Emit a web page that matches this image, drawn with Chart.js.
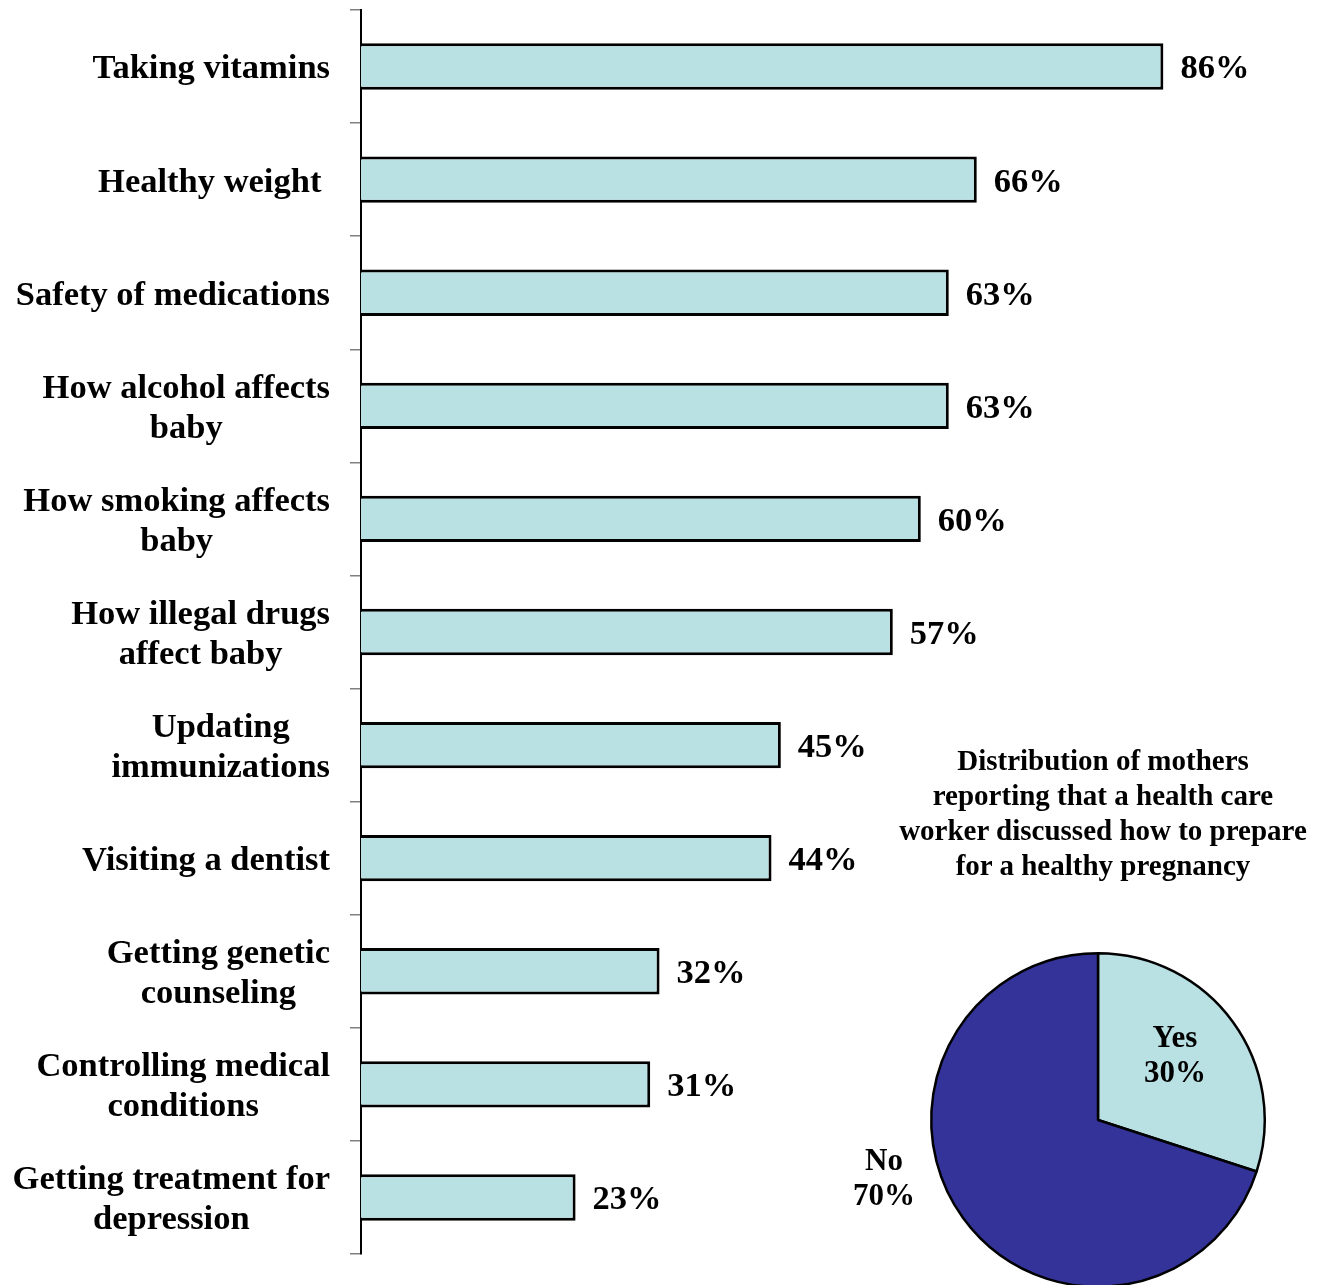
<!DOCTYPE html>
<html>
<head>
<meta charset="utf-8">
<script src="https://cdn.jsdelivr.net/npm/chart.js@4"></script>
<style>
  body { margin: 0; background: #fff; overflow: hidden; }
  #wrap { position: relative; width: 1325px; height: 1285px; }
  #barChart { position: absolute; left: 0; top: 0; }
  #pieChart { position: absolute; left: 926px; top: 948px; }
  #pieTitle {
    position: absolute; left: 880px; top: 743px; width: 446px;
    text-align: center; font: bold 29px "Liberation Serif", "Times New Roman", serif;
    line-height: 35px; color: #000;
  }
</style>
</head>
<body>
<div id="wrap">
  <canvas id="barChart" width="1325" height="1285"></canvas>
  <canvas id="pieChart" width="344" height="344"></canvas>
  <div id="pieTitle">Distribution of mothers<br>reporting that a health care<br>worker discussed how to prepare<br>for a healthy pregnancy</div>
</div>
<script>
const topics = [
  ['Taking vitamins'],
  ['Healthy weight '],
  ['Safety of medications'],
  ['How alcohol affects', 'baby'],
  ['How smoking affects', 'baby'],
  ['How illegal drugs', 'affect baby'],
  ['Updating', 'immunizations'],
  ['Visiting a dentist'],
  ['Getting genetic', 'counseling'],
  ['Controlling medical', 'conditions'],
  ['Getting treatment for', 'depression']
];
const percents = [86, 66, 63, 63, 60, 57, 45, 44, 32, 31, 23];

const pieLabels = ['Yes', 'No'];
const pieValues = [30, 70];

const teal = '#B9E0E3';
const navy = '#333399';
const labelFont = 'bold 34.5px "Liberation Serif", "Times New Roman", serif';

// category labels (centered lines, block right-aligned) + value labels
const barText = {
  id: 'barText',
  afterDraw(chart) {
    const ctx = chart.ctx;
    const yScale = chart.scales.y;
    ctx.save();
    ctx.font = labelFont;
    ctx.fillStyle = '#000';
    ctx.textBaseline = 'middle';
    ctx.textAlign = 'center';
    const right = chart.chartArea.left - 31;
    topics.forEach((lines, i) => {
      const yc = yScale.getPixelForTick(i);
      const w = Math.max(...lines.map(l => ctx.measureText(l).width));
      const cx = right - w / 2;
      const lh = 40;
      lines.forEach((l, j) => {
        ctx.fillText(l, cx, yc + (j - (lines.length - 1) / 2) * lh + 3);
      });
    });
    ctx.textAlign = 'left';
    chart.getDatasetMeta(0).data.forEach((bar, i) => {
      ctx.fillText(percents[i] + '%', bar.x + 17, bar.y + 3);
    });
    ctx.restore();
  }
};

new Chart(document.getElementById('barChart'), {
  type: 'bar',
  data: {
    labels: topics,
    datasets: [{
      data: percents,
      backgroundColor: teal,
      borderColor: '#000',
      borderWidth: 3,
      barPercentage: 0.41,
      categoryPercentage: 1.0
    }]
  },
  options: {
    indexAxis: 'y',
    responsive: false,
    animation: false,
    layout: { padding: { top: 10, bottom: 31, right: 31, left: 0 } },
    plugins: { legend: { display: false }, tooltip: { enabled: false } },
    scales: {
      x: { display: false, min: 0, max: 100 },
      y: {
        afterFit(scale) { scale.width = 361; },
        ticks: { display: false },
        grid: {
          offset: true,
          drawOnChartArea: false,
          drawTicks: true,
          tickLength: 11,
          color: '#808080',
          lineWidth: 1.5
        },
        border: { color: '#000', width: 2 }
      }
    }
  },
  plugins: [barText]
});

const pieText = {
  id: 'pieText',
  afterDraw(chart) {
    const ctx = chart.ctx;
    const arcs = chart.getDatasetMeta(0).data;
    ctx.save();
    ctx.font = 'bold 31px "Liberation Serif", "Times New Roman", serif';
    ctx.fillStyle = '#000';
    ctx.textAlign = 'center';
    ctx.textBaseline = 'middle';
    // Yes: inside the slice
    const a = arcs[0];
    const mid = (a.startAngle + a.endAngle) / 2;
    const r = a.outerRadius * 0.6;
    const x = a.x + Math.cos(mid) * r;
    const y = a.y + Math.sin(mid) * r;
    ctx.fillText(pieLabels[0], x - 4, y - 22);
    ctx.fillText(pieValues[0] + '%', x - 4, y + 13);
    ctx.restore();
  }
};

new Chart(document.getElementById('pieChart'), {
  type: 'pie',
  data: {
    labels: pieLabels,
    datasets: [{
      data: pieValues,
      backgroundColor: [teal, navy],
      borderColor: '#000',
      borderWidth: 2.5
    }]
  },
  options: {
    responsive: false,
    animation: false,
    layout: { padding: 4 },
    plugins: { legend: { display: false }, tooltip: { enabled: false } }
  },
  plugins: [pieText]
});

// "No 70%" sits outside the pie, to its left
(function () {
  const cv = document.getElementById('barChart');
  const ctx = cv.getContext('2d');
  ctx.save();
  ctx.font = 'bold 31px "Liberation Serif", "Times New Roman", serif';
  ctx.fillStyle = '#000';
  ctx.textAlign = 'center';
  ctx.textBaseline = 'middle';
  ctx.fillText(pieLabels[1], 884, 1162);
  ctx.fillText(pieValues[1] + '%', 884, 1197);
  ctx.restore();
})();
</script>
</body>
</html>
